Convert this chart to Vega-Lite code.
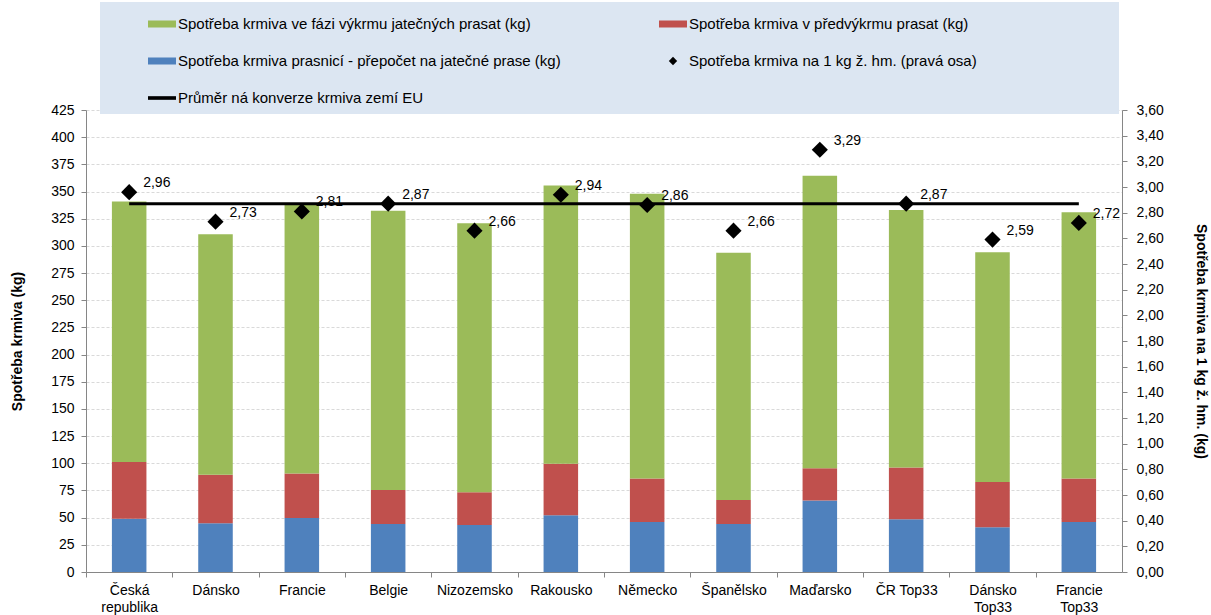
{
  "$schema": "https://vega.github.io/schema/vega-lite/v6.json",
  "autosize": {"type": "none"},
  "width": 1036,
  "height": 462,
  "padding": {"left": 86, "top": 110, "right": 89, "bottom": 43},
  "background": "white",
  "datasets": {
    "bars": [
      {"stat": "Česká republika", "slozka": "Spotřeba krmiva prasnicí - přepočet na jatečné prase (kg)", "kg": 49.1},
      {"stat": "Česká republika", "slozka": "Spotřeba krmiva v předvýkrmu  prasat (kg)", "kg": 52.2},
      {"stat": "Česká republika", "slozka": "Spotřeba krmiva ve fázi výkrmu jatečných prasat (kg)", "kg": 239.6},
      {"stat": "Dánsko", "slozka": "Spotřeba krmiva prasnicí - přepočet na jatečné prase (kg)", "kg": 44.8},
      {"stat": "Dánsko", "slozka": "Spotřeba krmiva v předvýkrmu  prasat (kg)", "kg": 44.6},
      {"stat": "Dánsko", "slozka": "Spotřeba krmiva ve fázi výkrmu jatečných prasat (kg)", "kg": 221.4},
      {"stat": "Francie", "slozka": "Spotřeba krmiva prasnicí - přepočet na jatečné prase (kg)", "kg": 49.7},
      {"stat": "Francie", "slozka": "Spotřeba krmiva v předvýkrmu  prasat (kg)", "kg": 40.9},
      {"stat": "Francie", "slozka": "Spotřeba krmiva ve fázi výkrmu jatečných prasat (kg)", "kg": 247.4},
      {"stat": "Belgie", "slozka": "Spotřeba krmiva prasnicí - přepočet na jatečné prase (kg)", "kg": 44.2},
      {"stat": "Belgie", "slozka": "Spotřeba krmiva v předvýkrmu  prasat (kg)", "kg": 31.3},
      {"stat": "Belgie", "slozka": "Spotřeba krmiva ve fázi výkrmu jatečných prasat (kg)", "kg": 256.8},
      {"stat": "Nizozemsko", "slozka": "Spotřeba krmiva prasnicí - přepočet na jatečné prase (kg)", "kg": 43.3},
      {"stat": "Nizozemsko", "slozka": "Spotřeba krmiva v předvýkrmu  prasat (kg)", "kg": 30.1},
      {"stat": "Nizozemsko", "slozka": "Spotřeba krmiva ve fázi výkrmu jatečných prasat (kg)", "kg": 247.5},
      {"stat": "Rakousko", "slozka": "Spotřeba krmiva prasnicí - přepočet na jatečné prase (kg)", "kg": 52.2},
      {"stat": "Rakousko", "slozka": "Spotřeba krmiva v předvýkrmu  prasat (kg)", "kg": 47.3},
      {"stat": "Rakousko", "slozka": "Spotřeba krmiva ve fázi výkrmu jatečných prasat (kg)", "kg": 256.1},
      {"stat": "Německo", "slozka": "Spotřeba krmiva prasnicí - přepočet na jatečné prase (kg)", "kg": 46.1},
      {"stat": "Německo", "slozka": "Spotřeba krmiva v předvýkrmu  prasat (kg)", "kg": 39.9},
      {"stat": "Německo", "slozka": "Spotřeba krmiva ve fázi výkrmu jatečných prasat (kg)", "kg": 261.9},
      {"stat": "Španělsko", "slozka": "Spotřeba krmiva prasnicí - přepočet na jatečné prase (kg)", "kg": 44.2},
      {"stat": "Španělsko", "slozka": "Spotřeba krmiva v předvýkrmu  prasat (kg)", "kg": 22.1},
      {"stat": "Španělsko", "slozka": "Spotřeba krmiva ve fázi výkrmu jatečných prasat (kg)", "kg": 227.3},
      {"stat": "Maďarsko", "slozka": "Spotřeba krmiva prasnicí - přepočet na jatečné prase (kg)", "kg": 65.7},
      {"stat": "Maďarsko", "slozka": "Spotřeba krmiva v předvýkrmu  prasat (kg)", "kg": 29.8},
      {"stat": "Maďarsko", "slozka": "Spotřeba krmiva ve fázi výkrmu jatečných prasat (kg)", "kg": 269.0},
      {"stat": "ČR Top33", "slozka": "Spotřeba krmiva prasnicí - přepočet na jatečné prase (kg)", "kg": 48.5},
      {"stat": "ČR Top33", "slozka": "Spotřeba krmiva v předvýkrmu  prasat (kg)", "kg": 47.6},
      {"stat": "ČR Top33", "slozka": "Spotřeba krmiva ve fázi výkrmu jatečných prasat (kg)", "kg": 236.8},
      {"stat": "Dánsko Top33", "slozka": "Spotřeba krmiva prasnicí - přepočet na jatečné prase (kg)", "kg": 41.1},
      {"stat": "Dánsko Top33", "slozka": "Spotřeba krmiva v předvýkrmu  prasat (kg)", "kg": 41.8},
      {"stat": "Dánsko Top33", "slozka": "Spotřeba krmiva ve fázi výkrmu jatečných prasat (kg)", "kg": 211.3},
      {"stat": "Francie Top33", "slozka": "Spotřeba krmiva prasnicí - přepočet na jatečné prase (kg)", "kg": 46.1},
      {"stat": "Francie Top33", "slozka": "Spotřeba krmiva v předvýkrmu  prasat (kg)", "kg": 39.9},
      {"stat": "Francie Top33", "slozka": "Spotřeba krmiva ve fázi výkrmu jatečných prasat (kg)", "kg": 245.0}
    ],
    "body": [
      {"stat": "Česká republika", "kg_na_kg": 2.96, "prumer": 2.87},
      {"stat": "Dánsko", "kg_na_kg": 2.73, "prumer": 2.87},
      {"stat": "Francie", "kg_na_kg": 2.81, "prumer": 2.87},
      {"stat": "Belgie", "kg_na_kg": 2.87, "prumer": 2.87},
      {"stat": "Nizozemsko", "kg_na_kg": 2.66, "prumer": 2.87},
      {"stat": "Rakousko", "kg_na_kg": 2.94, "prumer": 2.87},
      {"stat": "Německo", "kg_na_kg": 2.86, "prumer": 2.87},
      {"stat": "Španělsko", "kg_na_kg": 2.66, "prumer": 2.87},
      {"stat": "Maďarsko", "kg_na_kg": 3.29, "prumer": 2.87},
      {"stat": "ČR Top33", "kg_na_kg": 2.87, "prumer": 2.87},
      {"stat": "Dánsko Top33", "kg_na_kg": 2.59, "prumer": 2.87},
      {"stat": "Francie Top33", "kg_na_kg": 2.72, "prumer": 2.87}
    ]
  },
  "resolve": {"scale": {"y": "independent"}},
  "layer": [
    {
      "data": {"name": "bars"},
      "mark": {"type": "bar"},
      "encoding": {
        "x": {
          "field": "stat", "type": "nominal", "sort": null,
          "scale": {
            "domain": ["Česká republika", "Dánsko", "Francie", "Belgie", "Nizozemsko", "Rakousko", "Německo", "Španělsko", "Maďarsko", "ČR Top33", "Dánsko Top33", "Francie Top33"],
            "paddingInner": 0.6, "paddingOuter": 0.3
          },
          "axis": {
            "title": null, "labelAngle": 0, "labelFontSize": 14, "labelColor": "#000000",
            "labelPadding": 6, "labelLineHeight": 17,
            "labelExpr": "datum.label == 'ČR Top33' ? datum.label : split(datum.label, ' ')",
            "tickOffset": -43.17, "labelOffset": 43.17,
            "tickSize": 5, "tickColor": "#868686", "domainColor": "#868686", "grid": false
          }
        },
        "y": {
          "field": "kg", "type": "quantitative", "stack": "zero",
          "scale": {"domain": [0, 425], "nice": false},
          "axis": {
            "title": "Spotřeba krmiva (kg)", "titleFontSize": 14, "titleFontWeight": "bold", "titleColor": "#000000", "titlePadding": 26,
            "values": [0, 25, 50, 75, 100, 125, 150, 175, 200, 225, 250, 275, 300, 325, 350, 375, 400, 425],
            "labelFontSize": 14, "labelColor": "#000000", "labelPadding": 7,
            "tickSize": 5, "tickColor": "#868686", "domainColor": "#868686",
            "grid": true, "gridColor": "#D9D9D9", "gridDash": [3, 2]
          }
        },
        "color": {
          "field": "slozka", "type": "nominal",
          "scale": {
            "domain": [
              "Spotřeba krmiva ve fázi výkrmu jatečných prasat (kg)",
              "Spotřeba krmiva prasnicí - přepočet na jatečné prase (kg)",
              "Průměr ná konverze krmiva zemí EU",
              "Spotřeba krmiva v předvýkrmu  prasat (kg)",
              "Spotřeba krmiva na 1 kg ž. hm. (pravá osa)"
            ],
            "range": ["#9BBB59", "#4F81BD", "#000000", "#C0504D", "#000000"]
          },
          "legend": {
            "orient": "none", "legendX": 14, "legendY": -108,
            "columns": 2, "columnPadding": 58, "rowPadding": 15,
            "padding": 8, "fillColor": "#DCE6F2",
            "title": " ", "titleOrient": "right", "titlePadding": 134,
            "symbolOffset": 40,
            "labelFontSize": 15, "labelColor": "#000000", "labelOffset": 2, "labelLimit": 600,
            "symbolStrokeWidth": 0,
            "encode": {
              "symbols": {
                "update": {
                  "shape": {"signal": "datum.value == 'Spotřeba krmiva na 1 kg ž. hm. (pravá osa)' ? 'diamond' : (datum.value == 'Průměr ná konverze krmiva zemí EU' ? 'M-1,-0.13H1V0.13H-1Z' : 'M-1,-0.25H1V0.25H-1Z')"},
                  "size": {"signal": "datum.value == 'Spotřeba krmiva na 1 kg ž. hm. (pravá osa)' ? 70 : 784"},
                  "strokeWidth": {"value": 0}
                }
              }
            }
          }
        },
        "order": {"field": "slozka", "sort": "ascending"}
      }
    },
    {
      "data": {"name": "body"},
      "layer": [
        {
          "mark": {"type": "line", "strokeWidth": 3},
          "encoding": {
            "x": {"field": "stat", "type": "nominal", "sort": null},
            "y": {"field": "prumer", "type": "quantitative"},
            "color": {"datum": "Průměr ná konverze krmiva zemí EU"}
          }
        },
        {
          "mark": {"type": "point", "shape": "diamond", "filled": true, "size": 260, "opacity": 1},
          "encoding": {
            "x": {"field": "stat", "type": "nominal", "sort": null},
            "y": {"field": "kg_na_kg", "type": "quantitative"},
            "color": {"datum": "Spotřeba krmiva na 1 kg ž. hm. (pravá osa)"}
          }
        },
        {
          "mark": {"type": "text", "align": "left", "baseline": "middle", "dx": 14, "dy": -9, "fontSize": 14, "color": "#000000"},
          "encoding": {
            "x": {"field": "stat", "type": "nominal", "sort": null},
            "y": {"field": "kg_na_kg", "type": "quantitative"},
            "text": {"field": "kg_na_kg", "type": "quantitative", "format": ".2f"}
          }
        }
      ],
      "encoding": {
        "y": {
          "type": "quantitative",
          "scale": {"domain": [0, 3.6], "nice": false},
          "axis": {
            "orient": "right",
            "title": "Spotřeba krmiva na 1 kg ž. hm. (kg)", "titleFontSize": 14, "titleFontWeight": "bold", "titleColor": "#000000", "titlePadding": 30,
            "values": [0, 0.2, 0.4, 0.6, 0.8, 1, 1.2, 1.4, 1.6, 1.8, 2, 2.2, 2.4, 2.6, 2.8, 3, 3.2, 3.4, 3.6],
            "format": ".2f",
            "labelFontSize": 14, "labelColor": "#000000", "labelPadding": 9,
            "tickSize": 5, "tickColor": "#868686", "domainColor": "#868686", "grid": false
          }
        }
      }
    }
  ],
  "config": {
    "font": "Liberation Sans",
    "view": {"stroke": null},
    "locale": {"number": {"decimal": ",", "thousands": " ", "grouping": [3], "currency": ["", " Kč"]}}
  }
}
